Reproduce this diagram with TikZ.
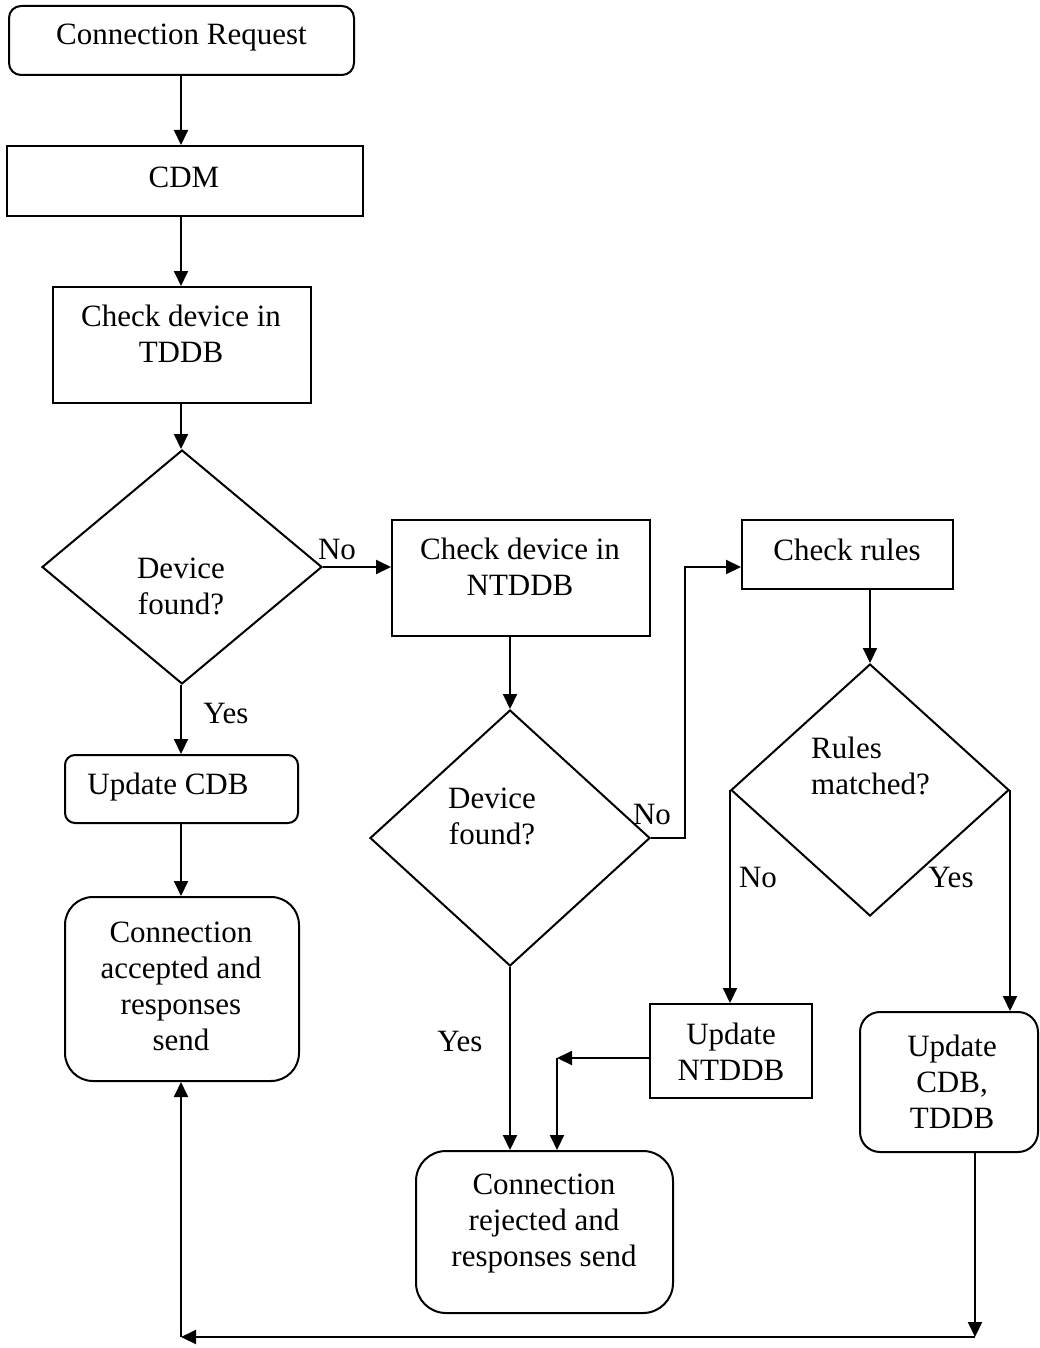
\documentclass[tikz,border=0pt]{standalone}
\usepackage{fontspec}
\setmainfont{Liberation Serif}
\usetikzlibrary{shapes.geometric,arrows.meta}
\begin{document}
\begin{tikzpicture}[x=1pt,y=-1pt,
  box/.style={draw,line width=2pt,rectangle,inner sep=0pt},
  rbox/.style={box,rounded corners=#1},
  dia/.style={draw,line width=2pt,diamond,inner sep=0pt},
  txt/.style={align=center,inner sep=0pt,font=\fontsize{31}{36}\selectfont},
  lbl/.style={inner sep=0pt,font=\fontsize{31}{36}\selectfont},
  arr/.style={line width=2pt,-{Triangle[length=15pt,width=14pt]}},
  ln/.style={line width=2pt}]
\useasboundingbox (0,0) rectangle (1040,1348);
% boxes
\node[rbox=12pt,minimum width=345pt,minimum height=69pt] (req) at (181.5,40.5) {};
\node[txt] (reqT) at (181.5,38) {Connection Request};
\node[box,minimum width=356pt,minimum height=70pt] (cdm) at (185,181) {};
\node[txt] (cdmT) at (184,177) {CDM};
\node[box,minimum width=258pt,minimum height=116pt] (tddb) at (182,345) {};
\node[txt] (tddbT) at (181,334) {Check device in\\TDDB};
\node[dia,minimum width=280pt,minimum height=234pt] (d1) at (182,567) {};
\node[txt] (d1T) at (181,586) {Device\\found?};
\node[box,minimum width=258pt,minimum height=116pt] (ntddb) at (521,578) {};
\node[txt] (ntddbT) at (520,567) {Check device in\\NTDDB};
\node[dia,minimum width=280pt,minimum height=256pt] (d2) at (510,838) {};
\node[txt] (d2T) at (492,816) {Device\\found?};
\node[box,minimum width=211pt,minimum height=69pt] (rules) at (847.5,554.5) {};
\node[txt] (rulesT) at (847,550) {Check rules};
\node[dia,minimum width=278pt,minimum height=252pt] (d3) at (870,790) {};
\node[txt,align=left,anchor=west] (d3T) at (811,766) {Rules\\matched?};
\node[rbox=10pt,minimum width=233pt,minimum height=68pt] (updcdb) at (181.5,789) {};
\node[txt] (updcdbT) at (168,787) {Update CDB};
\node[rbox=28pt,minimum width=234pt,minimum height=184pt] (acc) at (182,989) {};
\node[txt] (accT) at (181,986) {Connection\\accepted and\\responses\\send};
\node[box,minimum width=162pt,minimum height=94pt] (updnt) at (731,1051) {};
\node[txt] (updntT) at (731,1052) {Update\\NTDDB};
\node[rbox=20pt,minimum width=178pt,minimum height=140pt] (upd2) at (949,1082) {};
\node[txt] (upd2T) at (952,1082) {Update\\CDB,\\TDDB};
\node[rbox=30pt,minimum width=257pt,minimum height=162pt] (rej) at (544.5,1232) {};
\node[txt] (rejT) at (544,1224) {Connection\\rejected and\\responses send};
% labels
\node[lbl] (no1) at (337,549) {No};
\node[lbl] (yes1) at (226,713) {Yes};
\node[lbl] (no2) at (652,814) {No};
\node[lbl] (yes2) at (460,1041) {Yes};
\node[lbl] (no3) at (758,877) {No};
\node[lbl] (yes3) at (951,877) {Yes};
% helper coordinates
\coordinate (k1) at (685,567);
\coordinate (k2) at (557,1058);
\coordinate (k3) at (975,1337);
\coordinate (k4) at (181,1337);
% connectors
\draw[arr] (req.south -| k4) -- (cdm.north -| k4);
\draw[arr] (cdm.south -| k4) -- (tddb.north -| k4);
\draw[arr] (tddb.south -| k4) -- (d1.north -| k4);
\draw[arr] (d1.east) -- (d1.east -| ntddb.west);
\draw[arr] (d2.north |- ntddb.south) -- (d2.north);
\draw[arr] (d2.east) -| (k1) -- (k1 -| rules.west);
\draw[arr] (d3.north |- rules.south) -- (d3.north);
\draw[arr] (d3.west) -- (d3.west |- updnt.north);
\draw[arr] (d3.east) -- (d3.east |- upd2.north);
\draw[arr] (d1.south -| k4) -- (updcdb.north -| k4);
\draw[arr] (updcdb.south -| k4) -- (acc.north -| k4);
\draw[arr] (d2.south) -- (d2.south |- rej.north);
\draw[arr] (updnt.west |- k2) -- (k2);
\draw[arr] (k2) -- (k2 |- rej.north);
\draw[arr] (k3 |- upd2.south) -- (k3);
\draw[arr] (k3) -- (k4);
\draw[arr] (k4) -- (k4 |- acc.south);
\end{tikzpicture}
\end{document}
